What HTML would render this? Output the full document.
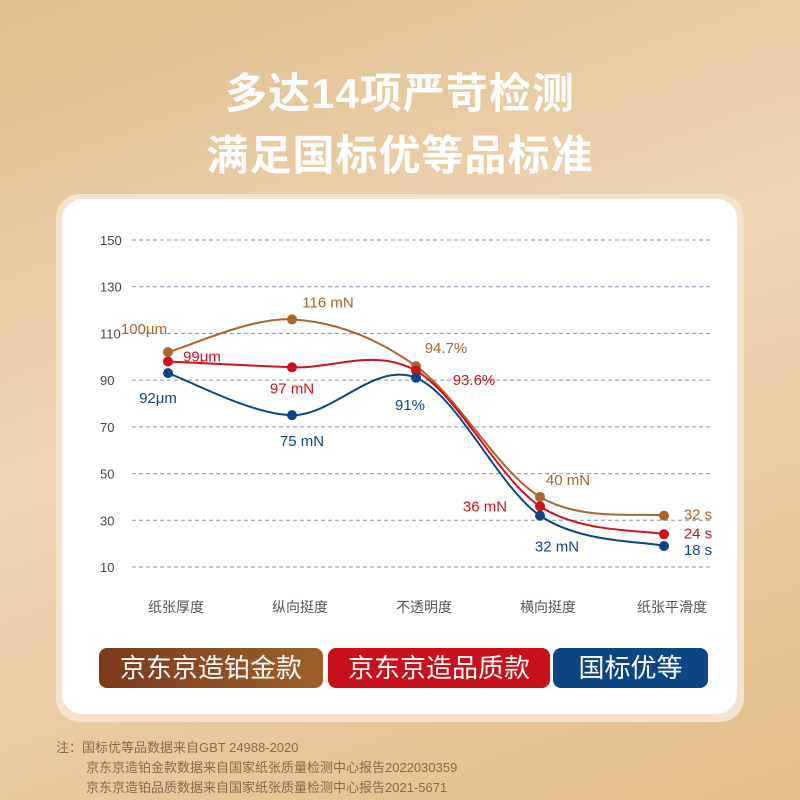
<!DOCTYPE html>
<html><head><meta charset="utf-8"><style>
body{margin:0;width:800px;height:800px;overflow:hidden;font-family:"Liberation Sans","Noto Sans CJK SC",sans-serif;}
#bg{position:absolute;left:0;top:0;width:800px;height:800px;background:linear-gradient(160deg,#e0bd8c 0%,#efd6b6 45%,#e2bd88 100%);}
.title{position:absolute;left:0;width:800px;text-align:center;font-size:42px;font-weight:bold;color:#fff;letter-spacing:1px;}
#card{position:absolute;left:56px;top:194px;width:688px;height:528px;background:#f3e3cc;border-radius:24px;}
#inner{position:absolute;left:62px;top:199px;width:675px;height:515px;background:#fff;border-radius:20px;}
.leg{position:absolute;top:648px;height:40px;line-height:40px;border-radius:8px;color:#fff;font-size:26px;text-align:center;}
.note{position:absolute;left:56px;font-size:13px;color:#8a6a4a;}
</style></head><body>
<div id="bg"></div>
<div class="title" style="top:60px">多达14项严苛检测</div>
<div class="title" style="top:122px">满足国标优等品标准</div>
<div id="card"></div>
<div id="inner"></div>
<svg id="chart" width="800" height="800" style="position:absolute;left:0;top:0"></svg>
<div class="leg" style="left:99px;width:224px;background:linear-gradient(90deg,#7a3a1c,#a0602a)">京东京造铂金款</div>
<div class="leg" style="left:328px;width:222px;background:#c8101a">京东京造品质款</div>
<div class="leg" style="left:553px;width:155px;background:#0d4585">国标优等</div>
<div class="note" style="top:737px">注：国标优等品数据来自GBT 24988-2020</div>
<div class="note" style="top:757px;left:86px">京东京造铂金款数据来自国家纸张质量检测中心报告2022030359</div>
<div class="note" style="top:777px;left:86px">京东京造铂品质数据来自国家纸张质量检测中心报告2021-5671</div>
<script>
const categories=["纸张厚度","纵向挺度","不透明度","横向挺度","纸张平滑度"];
const yTicks=[150,130,110,90,70,50,30,10];
const brownVals=[102,116,96,40,32];
const redVals=[98,95.5,94,36,24];
const blueVals=[93,75,91,32,19];
const brownLabels=["100μm","116 mN","94.7%","40 mN","32 s"];
const redLabels=["99μm","97 mN","93.6%","36 mN","24 s"];
const blueLabels=["92μm","75 mN","91%","32 mN","18 s"];
const svg=document.getElementById('chart');
const NS="http://www.w3.org/2000/svg";
const x0=168,x1=664,yTop=240,yBot=567,vMin=10,vMax=150;
function xs(i){return x0+(x1-x0)*i/(categories.length-1);}
function ys(v){return yBot-(v-vMin)*(yBot-yTop)/(vMax-vMin);}
function mk(tag,attrs){const e=document.createElementNS(NS,tag);for(const k in attrs)e.setAttribute(k,attrs[k]);svg.appendChild(e);return e;}
yTicks.forEach(t=>{
 const l=mk('line',{x1:132,x2:712,y1:ys(t),y2:ys(t),stroke:'#8a90b0','stroke-width':1,'stroke-dasharray':'4,3'});
 
 
 const tx=mk('text',{x:100,y:ys(t)+5,'font-size':13,fill:'#444','font-family':'Liberation Sans'});
 tx.textContent=t;
 
 
});
categories.forEach((c,i)=>{
 const tx=mk('text',{x:xs(i)+8,y:612,'font-size':14,fill:'#555','text-anchor':'middle'});
 tx.textContent=c;
 
 
});
function path(vals){
 const p=vals.map((v,i)=>[xs(i),ys(v)]);
 let d=`M${p[0][0]},${p[0][1]}`;
 for(let i=0;i<p.length-1;i++){
  const a=p[Math.max(0,i-1)],b=p[i],c=p[i+1],e=p[Math.min(p.length-1,i+2)];
  const c1=[b[0]+(c[0]-a[0])/6,b[1]+(c[1]-a[1])/6],c2=[c[0]-(e[0]-b[0])/6,c[1]-(e[1]-b[1])/6];
  d+=` C${c1[0]},${c1[1]} ${c2[0]},${c2[1]} ${c[0]},${c[1]}`;
 }
 return d;
}
const series=[
 {vals:brownVals,labels:brownLabels,color:'#a8652c',name:'platinum',off:[[-24,-18],[36,-12],[30,-13],[28,-12],[34,4]]},
 {vals:redVals,labels:redLabels,color:'#d2101a',name:'quality',off:[[34,0],[0,26],[58,14],[-55,5],[34,4]]},
 {vals:blueVals,labels:blueLabels,color:'#0d4585',name:'national',off:[[-10,30],[10,31],[-6,32],[17,36],[34,9]]}
];
series.forEach(s=>{
 const pa=mk('path',{d:path(s.vals),fill:'none',stroke:s.color,'stroke-width':2});
 
 
});
series.forEach(s=>{
 s.vals.forEach((v,i)=>{
  const c=mk('circle',{cx:xs(i),cy:ys(v),r:5,fill:s.color});
  
  
  const t=mk('text',{x:xs(i)+s.off[i][0],y:ys(v)+s.off[i][1],'font-size':15,fill:s.color,'text-anchor':'middle'});
  t.textContent=s.labels[i];
  
  
 });
});
</script>
</body></html>
